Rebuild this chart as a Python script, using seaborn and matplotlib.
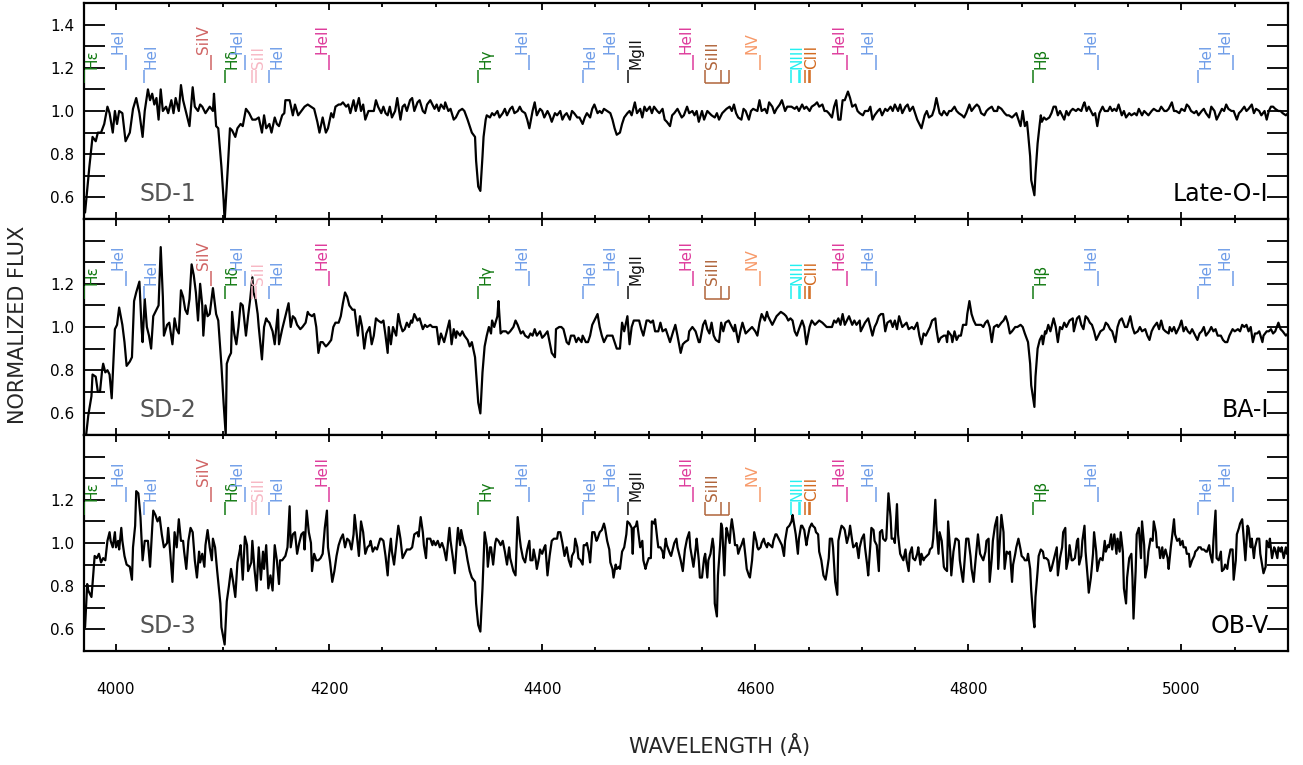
import matplotlib
matplotlib.use("Agg")
import matplotlib.pyplot as plt
import seaborn as sns
from matplotlib.ticker import MultipleLocator, FixedLocator

# ── spectra (wavelength in Å, normalized flux) ──────────────────────────
SD1_WAVE = [
    3971, 3975, 3978, 3981, 3983, 3986, 3989, 3992, 3994, 3997,
    3999, 4001, 4003, 4006, 4009, 4013, 4016, 4019, 4022, 4025,
    4027, 4030, 4032, 4034, 4036, 4038, 4040, 4042, 4044, 4047,
    4049, 4052, 4054, 4056, 4059, 4061, 4063, 4066, 4069, 4072,
    4074, 4077, 4079, 4081, 4084, 4088, 4091, 4092, 4094, 4096,
    4099, 4101, 4102, 4105, 4107, 4109, 4112, 4114, 4117, 4119,
    4122, 4125, 4128, 4131, 4134, 4137, 4139, 4141, 4144, 4146,
    4149, 4151, 4153, 4156, 4158, 4159, 4163, 4166, 4168, 4171,
    4174, 4177, 4180, 4183, 4186, 4189, 4191, 4194, 4197, 4199,
    4202, 4204, 4206, 4209, 4211, 4213, 4216, 4218, 4220, 4223,
    4225, 4228, 4230, 4232, 4234, 4237, 4240, 4242, 4244, 4246,
    4249, 4251, 4253,
    4255, 4257, 4259, 4262, 4264, 4267, 4269, 4271, 4273, 4276,
    4278, 4280, 4283, 4285, 4288, 4290, 4292, 4295, 4297, 4299,
    4301, 4303, 4305, 4308, 4309, 4312, 4314, 4317, 4319, 4322,
    4325, 4327, 4330, 4332, 4334, 4337, 4338, 4340, 4342, 4344,
    4345, 4347, 4348, 4351, 4353, 4355, 4358, 4360, 4363, 4365,
    4367, 4370, 4372, 4374, 4377, 4379, 4381, 4384, 4386, 4388,
    4391, 4393, 4395, 4398, 4400, 4402, 4405, 4407, 4409, 4412,
    4414, 4417, 4419, 4421, 4423, 4426, 4428, 4430, 4433, 4435,
    4438, 4440, 4442, 4445, 4447, 4449, 4452, 4454, 4456, 4458,
    4461, 4464, 4466, 4468, 4470, 4473, 4475, 4477, 4480, 4482,
    4484, 4487, 4489, 4492, 4494, 4496, 4498, 4501, 4503, 4505,
    4508, 4510, 4513, 4515, 4517, 4520, 4522, 4524, 4527, 4529,
    4531, 4533, 4536, 4538, 4541,
    4543, 4545, 4547, 4550, 4552, 4555, 4557, 4559, 4562, 4564,
    4566, 4569, 4571, 4573, 4576, 4578, 4580, 4582, 4584, 4587,
    4589, 4591, 4594, 4596, 4598, 4602, 4604, 4606, 4609, 4611,
    4613, 4616, 4618, 4620, 4623, 4625, 4628, 4630, 4632, 4634,
    4637, 4639, 4641, 4644, 4646, 4648, 4651, 4653, 4656, 4658,
    4660, 4663, 4665, 4667, 4669, 4672, 4674, 4676, 4678, 4680,
    4682, 4684, 4687, 4689, 4691, 4694, 4696, 4698, 4701, 4703,
    4706, 4708, 4710, 4712, 4715, 4717, 4719, 4722, 4724, 4727,
    4729, 4731, 4734, 4736, 4738, 4741, 4743, 4745, 4748, 4750,
    4752, 4755, 4756, 4759, 4761, 4763, 4766, 4768, 4770, 4773,
    4775, 4777, 4780, 4782, 4784, 4787, 4789, 4791, 4794, 4796,
    4798, 4801, 4803, 4806, 4808, 4810, 4812, 4815, 4817, 4819,
    4822, 4824, 4827,
    4828, 4831, 4834, 4836, 4838, 4841, 4843, 4845, 4847, 4849,
    4851, 4853, 4855, 4856, 4858, 4859, 4862, 4863, 4865, 4867,
    4868, 4869, 4871, 4873, 4876, 4878, 4880, 4882, 4884, 4886,
    4888, 4890, 4892, 4894, 4896, 4898, 4901, 4903, 4906, 4908,
    4909, 4911, 4913, 4915, 4917, 4919, 4921, 4923, 4926, 4928,
    4931, 4933, 4935, 4937, 4939, 4941, 4944, 4946, 4948, 4951,
    4953, 4956, 4958, 4960, 4963, 4965, 4967, 4969, 4972, 4974,
    4977, 4979, 4981, 4984, 4986, 4988, 4991, 4993, 4995, 4998,
    5000, 5003, 5005, 5007, 5009, 5012, 5014, 5016, 5019, 5021,
    5023, 5026, 5028, 5031, 5033, 5035, 5038, 5040, 5042, 5044,
    5047, 5049, 5052, 5054, 5056, 5059, 5061, 5063, 5066, 5068,
    5070, 5073, 5075, 5078, 5080, 5082, 5084, 5086, 5088, 5091,
    5093, 5095, 5098, 5100,
]
SD1_FLUX = [
    .53, .74, .88, .86, .90, .90, .94, 1.02, .99, .90,
    1.00, .94, 1.00, .99, .86, .90, 1.01, 1.06, .99, .88,
    1.00, 1.10, 1.05, 1.08, 1.03, 1.06, .96, 1.10, 1.00, 1.02,
    .99, 1.05, .99, 1.06, 1.00, 1.12, 1.05, .99, .93, 1.11,
    1.02, 1.00, 1.03, 1.02, .99, 1.02, 1.00, 1.08, .93, .92,
    .74, .59, .49, .74, .92, .91, .88, .92, .94, .93,
    1.01, .99, .96, .96, .97, .90, .98, .92, .94, .90,
    .97, .94, .93, .98, .99, 1.05, 1.05, .98, 1.03, .98,
    1.00, 1.02, 1.03, 1.02, 1.01, .95, .90, .97, .90, .92,
    .99, .97, 1.02, 1.03, 1.03, 1.04, 1.02, 1.03, .99, 1.05,
    1.00, 1.06, 1.00, 1.03, .96, 1.00, 1.00, 1.00, 1.05, 1.02,
    .99, 1.02, .99,
    .98, 1.02, .97, 1.00, 1.06, .96, 1.02, 1.03, 1.00, 1.05,
    1.06, 1.00, 1.04, 1.05, 1.00, .99, 1.03, 1.05, 1.03, 1.01,
    1.03, 1.00, 1.03, 1.01, 1.04, 1.00, 1.01, .96, .97, 1.00,
    1.01, 1.00, .96, .93, .90, .88, .77, .65, .63, .79,
    .88, .96, .98, .97, .99, .98, 1.00, .97, .99, 1.01,
    .98, 1.01, 1.02, .99, 1.00, 1.02, 1.00, .99, .96, .92,
    1.00, 1.04, .98, 1.01, 1.00, .97, 1.00, .98, .95, .99,
    .98, 1.00, .96, .98, .99, .96, 1.00, .99, .97, .97,
    .94, .97, .99, .97, 1.01, 1.03, .99, 1.00, .99, 1.01,
    1.00, .99, .96, .92, .89, .90, .94, .97, .99, 1.00,
    .98, 1.04, .99, 1.01, .97, 1.02, 1.00, 1.02, .99, 1.02,
    1.00, .99, 1.01, .96, .95, .93, .98, .99, 1.01, .99,
    .97, .98, 1.02, .99, 1.00,
    .98, 1.00, .95, 1.00, .96, 1.00, .99, .98, .97, .99,
    .96, .99, 1.00, 1.01, 1.02, 1.00, 1.03, .99, .97, .96,
    1.01, 1.00, .96, 1.00, 1.01, 1.00, 1.05, 1.00, 1.01, .99,
    1.04, 1.02, .99, 1.01, 1.03, 1.05, 1.00, 1.02, 1.02, 1.02,
    1.01, 1.02, 1.00, 1.03, 1.01, 1.02, 1.00, 1.02, 1.03, 1.04,
    1.02, 1.03, 1.00, 1.00, .99, .97, 1.02, 1.05, .96, .96,
    1.05, 1.05, 1.09, 1.06, 1.02, 1.03, 1.00, .99, .98, 1.00,
    1.00, 1.02, .96, .98, 1.00, 1.01, .98, 1.01, 1.00, 1.02,
    1.00, 1.03, 1.00, 1.03, .99, 1.02, 1.03, 1.00, 1.02, .99,
    .96, .93, .92, .98, 1.00, .97, .98, 1.01, 1.06, .99,
    .98, 1.00, .98, 1.00, 1.00, 1.02, 1.00, .99, .98, .97,
    .99, 1.03, 1.00, 1.02, 1.03, 1.02, .99, .98, 1.00, 1.01,
    1.02, 1.00, 1.00,
    1.02, 1.01, .99, .98, .98, .97, .98, .99, .96, .93,
    1.00, .93, .95, .90, .79, .68, .61, .71, .85, .94,
    .98, .95, .97, .96, .97, .99, 1.02, 1.02, .98, 1.00,
    .98, .96, 1.00, .98, 1.00, 1.01, 1.00, 1.01, 1.00, 1.03,
    1.04, 1.00, 1.02, 1.00, .98, .99, .93, .99, 1.02, 1.00,
    1.00, 1.02, 1.00, 1.01, 1.00, 1.03, .98, 1.00, .97, .99,
    .98, .99, .98, 1.01, .98, 1.00, .99, .98, 1.00, 1.01,
    1.00, 1.00, 1.02, 1.00, 1.00, 1.01, 1.04, 1.00, 1.00, .99,
    1.01, 1.00, 1.03, 1.02, 1.00, .99, 1.00, .98, 1.00, 1.01,
    .99, .97, 1.02, 1.00, .96, .98, 1.01, 1.00, 1.03, 1.01,
    1.00, 1.00, .96, .99, 1.00, 1.02, 1.00, 1.01, 1.03, .99,
    1.01, 1.00, .98, 1.00, .96, 1.00, 1.02, 1.02, 1.01, 1.00,
    1.00, .99, .98, .99,
]

SD2_WAVE = [
    3972, 3974, 3977, 3978, 3981, 3983, 3985, 3987, 3988, 3990,
    3992, 3994, 3996, 3999, 4001, 4003, 4006, 4008, 4010, 4013,
    4015, 4017, 4019, 4022, 4024, 4025, 4027, 4029, 4031, 4033,
    4035, 4038, 4040, 4042, 4044, 4045, 4048, 4050, 4053, 4055,
    4057, 4059, 4061, 4063, 4065, 4067, 4069, 4071, 4073, 4075,
    4077, 4079, 4081, 4082, 4084, 4086, 4088, 4091, 4092, 4094,
    4096, 4099, 4101, 4103, 4104, 4106, 4108, 4109, 4111, 4113,
    4115, 4117, 4119, 4122, 4124, 4126, 4128, 4129, 4131, 4133,
    4134, 4137, 4139, 4141, 4142, 4144, 4147, 4149, 4152, 4153,
    4156, 4158, 4159, 4162, 4164, 4166, 4168, 4170, 4173, 4175,
    4178, 4180, 4181, 4184, 4186, 4188, 4190, 4192, 4194, 4197,
    4199, 4202, 4204, 4206, 4209, 4211, 4213, 4215, 4217, 4219,
    4222, 4224, 4227, 4229, 4231, 4233, 4235, 4238, 4240, 4242,
    4244, 4246, 4249, 4251, 4253, 4255,
    4256, 4258, 4260, 4263, 4265, 4267, 4269, 4271, 4273, 4275,
    4277, 4278, 4280, 4283, 4285, 4288, 4290, 4292, 4295, 4297,
    4299, 4301, 4303, 4305, 4308, 4310, 4313, 4315, 4317, 4319,
    4320, 4323, 4325, 4327, 4330, 4332, 4334, 4337, 4338, 4340,
    4342, 4344, 4346, 4348, 4350, 4352, 4353, 4355, 4358, 4359,
    4361, 4363, 4366, 4368, 4370, 4373, 4375, 4377, 4380, 4382,
    4384, 4387, 4389, 4391, 4393, 4395, 4398, 4400, 4402, 4405,
    4407, 4409, 4412, 4413, 4416, 4418, 4420, 4423, 4425, 4427,
    4430, 4432, 4434, 4437, 4438, 4441, 4443, 4445, 4447, 4449,
    4452, 4454, 4456, 4458, 4461, 4464, 4466, 4468, 4470, 4473,
    4475, 4477, 4480, 4482, 4484, 4486, 4488, 4491, 4493, 4495,
    4498, 4500, 4502, 4504, 4506, 4509, 4511, 4513, 4516, 4518,
    4520, 4523, 4525, 4527, 4530, 4532, 4534, 4537, 4538, 4541,
    4544, 4547, 4548, 4551, 4553, 4555, 4557, 4559, 4561, 4563,
    4566, 4568, 4570, 4572, 4575, 4577, 4580, 4581, 4584, 4586,
    4588, 4591, 4593, 4595, 4597, 4600, 4602, 4604, 4606, 4609,
    4611, 4612, 4614, 4616, 4618, 4620, 4622, 4624, 4627, 4629,
    4631, 4633, 4635, 4637, 4639, 4641, 4644, 4646, 4648, 4651,
    4653, 4656, 4658, 4660, 4663, 4665, 4667, 4669, 4672, 4674,
    4676, 4678, 4680, 4682, 4684, 4686, 4688, 4691, 4693, 4695,
    4698, 4699, 4702, 4703, 4706, 4708, 4710, 4712, 4714, 4716,
    4718, 4720, 4722, 4724, 4727, 4729, 4731, 4733, 4735, 4738,
    4740, 4742, 4744, 4747, 4749, 4752, 4754, 4756, 4758, 4760,
    4762, 4764, 4766, 4769, 4770, 4772, 4774, 4777, 4779, 4780,
    4781, 4784, 4785, 4787, 4789, 4791, 4793, 4795, 4798, 4799,
    4801, 4803, 4805, 4807, 4809, 4812, 4814, 4816, 4818, 4820,
    4822, 4824, 4827,
    4828, 4831, 4833, 4835, 4837, 4839, 4841, 4844, 4846, 4849,
    4851, 4853, 4856, 4858, 4859, 4862, 4863, 4865, 4867, 4869,
    4870, 4872, 4873, 4875, 4877, 4878, 4880, 4882, 4884, 4886,
    4888, 4890, 4892, 4894, 4895, 4898, 4899, 4902, 4904, 4906,
    4908, 4910, 4912, 4914, 4916, 4918, 4920, 4922, 4924, 4927,
    4929, 4931, 4933, 4935, 4938, 4940, 4942, 4944, 4947, 4949,
    4952, 4954, 4956, 4959, 4961, 4963, 4966, 4968, 4970, 4972,
    4974, 4977, 4979, 4981, 4983, 4985, 4988, 4989, 4991, 4993,
    4995, 4998, 5000, 5002, 5004, 5006, 5008, 5010, 5013, 5015,
    5017, 5019, 5021, 5023, 5026, 5028, 5030, 5032, 5034, 5037,
    5039, 5041, 5043, 5045, 5048, 5050, 5053, 5055, 5057, 5059,
    5061, 5063, 5065, 5067, 5069, 5071, 5073, 5076, 5077, 5080,
    5082, 5084, 5086, 5088, 5091, 5093, 5095, 5098, 5100,
]
SD2_FLUX = [
    .50, .59, .68, .78, .77, .70, .70, .80, .83, .79,
    .80, .78, .67, .99, 1.01, 1.09, 1.01, .93, .82, .84,
    .86, 1.12, 1.16, 1.21, 1.00, .93, 1.13, 1.00, .96, .90,
    1.05, 1.08, 1.10, 1.37, 1.14, .96, 1.01, 1.02, .92, 1.04,
    .99, .97, 1.17, 1.14, 1.08, 1.06, 1.13, 1.29, 1.24, 1.16,
    1.03, 1.20, 1.10, .96, 1.10, 1.05, 1.06, 1.18, 1.14, 1.06,
    1.03, .82, .65, .50, .83, .86, .88, 1.07, .97, .92,
    1.00, 1.11, 1.10, .96, 1.05, 1.13, 1.23, 1.16, 1.13, 1.06,
    1.00, .85, 1.00, 1.04, 1.03, 1.02, .98, .92, 1.08, .92,
    .99, 1.03, 1.05, 1.11, 1.00, 1.05, 1.04, 1.01, .99, 1.00,
    1.02, 1.07, 1.06, 1.05, 1.06, 1.00, .88, .93, .93, .91,
    .92, .94, 1.00, 1.02, 1.02, 1.05, 1.11, 1.16, 1.14, 1.10,
    1.08, 1.08, .96, 1.05, 1.00, .90, .97, 1.00, .92, .96,
    1.04, 1.03, 1.02, 1.03, .96, .88,
    1.00, .92, 1.00, .96, 1.06, 1.01, .98, .99, 1.02, 1.00,
    1.03, 1.02, 1.06, 1.03, 1.04, .99, 1.01, 1.00, 1.01, 1.00,
    1.00, 1.00, .92, .97, .93, .97, 1.03, .92, .99, .95,
    .98, .96, .98, .96, .94, .91, .93, .86, .79, .65,
    .60, .79, .91, .96, 1.00, .97, 1.03, 1.00, 1.05, 1.12,
    .97, .98, .98, .97, .98, 1.00, 1.03, 1.01, .97, .98,
    .96, .95, .97, .96, .99, .96, .98, .95, .96, .98,
    .93, .88, .86, .99, 1.00, 1.00, .99, .93, .92, .96,
    .96, .93, .95, .93, .96, .93, .93, .96, 1.01, 1.03,
    1.06, 1.00, .96, .93, .96, .96, .96, .93, .90, .90,
    1.02, .98, 1.05, .92, 1.00, 1.03, 1.03, 1.03, .99, .96,
    1.03, 1.03, 1.02, 1.03, .98, .98, 1.02, .98, .99, .96,
    .93, .98, 1.01, .96, .88, .92, .93, .94, .98, 1.00,
    .98, .93, .93, 1.01, 1.03, .99, .97, 1.02, .96, .94,
    .93, 1.02, .98, 1.02, 1.03, 1.01, .98, 1.01, .93, .98,
    1.02, .97, .98, .99, 1.00, .98, .96, 1.02, 1.06, 1.03,
    1.07, 1.05, 1.03, 1.01, 1.03, 1.05, 1.06, 1.07, 1.06, 1.05,
    1.03, 1.04, 1.03, .98, .96, .99, 1.03, 1.00, .92, 1.00,
    1.03, 1.01, 1.02, 1.03, 1.02, 1.01, 1.00, 1.00, 1.00, 1.03,
    1.02, 1.04, 1.01, 1.06, 1.01, 1.03, 1.05, 1.01, 1.03, 1.01,
    1.03, .98, 1.01, 1.02, 1.04, 1.00, .96, 1.00, 1.02, 1.05,
    1.06, 1.06, .98, 1.02, 1.03, 1.00, 1.03, .99, 1.05, 1.00,
    1.01, 1.02, .99, 1.00, .99, 1.02, .96, .92, .97, .96,
    .98, 1.00, 1.03, 1.04, .99, .93, .95, .96, .96, .93,
    .98, .96, .93, .98, .94, .96, .96, 1.01, 1.01, 1.06,
    1.12, 1.06, 1.03, 1.01, 1.01, 1.01, 1.00, 1.02, 1.03, 1.00,
    .93, 1.00, 1.01,
    1.00, 1.02, 1.03, 1.05, 1.02, .97, .98, 1.00, 1.00, 1.01,
    1.00, .97, .93, .83, .73, .63, .77, .90, .94, .96,
    .92, .98, .97, 1.01, .98, 1.00, 1.04, 1.00, .93, 1.00,
    .99, 1.02, 1.00, 1.02, 1.03, 1.04, .98, 1.04, 1.05, 1.01,
    .99, 1.05, 1.04, 1.02, 1.01, .98, .94, .96, .98, .99,
    1.02, 1.01, .99, .98, .93, 1.00, 1.03, 1.04, 1.00, 1.00,
    1.05, 1.00, .97, .98, 1.00, .98, .99, .96, .94, .98,
    1.00, 1.02, .99, 1.03, .99, .98, .97, 1.00, .98, 1.00,
    .97, 1.00, 1.03, .98, 1.00, .98, .97, .99, .96, .94,
    .97, .98, 1.00, .96, .98, 1.00, .98, .99, .96, .96,
    .94, .93, .93, .96, .99, .98, .99, .98, 1.01, 1.00,
    1.01, .98, 1.00, .93, .97, .97, .98, .93, .96, .98,
    .98, .99, .97, .98, 1.02, .99, .98, .96, .97,
]

SD3_WAVE = [
    3971, 3973, 3974, 3977, 3978, 3980, 3982, 3984, 3986, 3988,
    3990, 3992, 3994, 3995, 3997, 3999, 4000, 4002, 4003, 4005,
    4006, 4008, 4010, 4013, 4015, 4016, 4018, 4019, 4021, 4023,
    4025, 4027, 4030, 4032, 4034, 4035, 4037, 4039, 4041, 4043,
    4045, 4048, 4049, 4051, 4053, 4055, 4057, 4059, 4061, 4063,
    4064, 4066, 4068, 4070, 4072, 4074, 4076, 4078, 4079, 4081,
    4083, 4084, 4086, 4088, 4090, 4091, 4093, 4095, 4098, 4099,
    4102, 4104, 4106, 4108, 4110, 4112, 4114, 4116, 4117, 4119,
    4121, 4123, 4124, 4127, 4128, 4130, 4132, 4134, 4136, 4138,
    4139, 4141, 4143, 4145, 4147, 4149, 4151, 4153, 4154, 4156,
    4159, 4161, 4163, 4164, 4166, 4168, 4170, 4172, 4174, 4176,
    4177, 4179, 4181, 4183, 4184, 4186, 4188, 4190, 4192, 4194,
    4196, 4198, 4199, 4201, 4203, 4205, 4207, 4209, 4211, 4213,
    4215, 4217, 4219, 4221, 4223, 4224, 4226, 4228, 4230, 4232,
    4234, 4236, 4238, 4239, 4241, 4243, 4245, 4248, 4249, 4251,
    4253, 4255,
    4256, 4258, 4259, 4261, 4263, 4265, 4267, 4269, 4271, 4273,
    4276, 4278, 4280, 4283, 4284, 4286, 4288, 4289, 4291, 4292,
    4295, 4297, 4298, 4300, 4302, 4304, 4306, 4308, 4310, 4313,
    4314, 4316, 4318, 4320, 4321, 4323, 4324, 4326, 4328, 4330,
    4332, 4334, 4337, 4338, 4340, 4342, 4344, 4346, 4348, 4349,
    4351, 4352, 4354, 4356, 4357, 4359, 4361, 4363, 4365, 4367,
    4369, 4370, 4373, 4375, 4377, 4379, 4380, 4382, 4384, 4386,
    4388, 4389, 4391, 4392, 4394, 4395, 4397, 4398, 4400, 4402,
    4403, 4405, 4407, 4409, 4411, 4414, 4415, 4417, 4419, 4421,
    4423, 4425, 4427, 4428, 4430, 4431, 4433, 4434, 4436, 4438,
    4439, 4441, 4442, 4444, 4445, 4447, 4449, 4451, 4452, 4454,
    4456, 4458, 4459, 4461, 4463, 4464, 4466, 4467, 4469, 4470,
    4472, 4473, 4475, 4477, 4479, 4480, 4482, 4484, 4485, 4486,
    4488, 4489, 4491, 4492, 4494, 4495, 4497, 4498, 4500, 4502,
    4503, 4505, 4506, 4508, 4509, 4511, 4513, 4514, 4516, 4517,
    4520, 4521, 4523, 4524, 4526, 4527, 4529, 4530, 4532, 4534,
    4536, 4538, 4539, 4541,
    4542, 4544, 4545, 4547, 4548, 4550, 4552, 4553, 4555, 4556,
    4558, 4560, 4561, 4562, 4564, 4565, 4567, 4568, 4569, 4571,
    4572, 4573, 4574, 4576, 4577, 4578, 4580, 4581, 4583, 4584,
    4586, 4587, 4589, 4591, 4592, 4594, 4595, 4597, 4599, 4601,
    4602, 4603, 4605, 4606, 4608, 4609, 4611, 4612, 4614, 4616,
    4617, 4619, 4620, 4622, 4623, 4625, 4627, 4628, 4630, 4632,
    4634, 4635, 4637, 4638, 4640, 4641, 4643, 4644, 4646, 4648,
    4649, 4651, 4653, 4654, 4656, 4657, 4659, 4660, 4662, 4664,
    4666, 4667, 4669, 4670, 4672, 4673, 4675, 4677, 4678, 4680,
    4681, 4683, 4684, 4686, 4688, 4689, 4691, 4692, 4694, 4695,
    4697, 4698, 4700, 4702, 4703, 4705, 4706, 4708, 4709, 4711,
    4712, 4714, 4716, 4717, 4719, 4720, 4722, 4723, 4725, 4727,
    4728, 4730, 4731, 4733, 4734, 4736, 4738, 4739, 4741, 4742,
    4744, 4745, 4747, 4748, 4750, 4752, 4753, 4755, 4756, 4758,
    4759, 4761, 4763, 4764, 4766, 4767, 4769, 4770, 4772, 4773,
    4775, 4777, 4778, 4780, 4781, 4783, 4784, 4786, 4788, 4789,
    4791, 4792, 4794, 4795, 4797, 4798, 4800, 4802, 4803, 4805,
    4806, 4808, 4809, 4811, 4812, 4814, 4816, 4817, 4819, 4820,
    4822, 4823, 4825, 4827,
    4828, 4830, 4831, 4833, 4834, 4836, 4838, 4839, 4841, 4842,
    4844, 4845, 4847, 4849, 4850, 4852, 4853, 4855, 4856, 4858,
    4859, 4861, 4862, 4863, 4865, 4866, 4868, 4870, 4871, 4873,
    4875, 4877, 4878, 4880, 4881, 4883, 4884, 4886, 4888, 4889,
    4891, 4892, 4894, 4895, 4897, 4898, 4900, 4902, 4903, 4904,
    4906, 4907, 4909, 4910, 4912, 4913, 4915, 4917, 4918, 4920,
    4921, 4923, 4924, 4926, 4928, 4929, 4931, 4932, 4934, 4935,
    4937, 4939, 4940, 4942, 4943, 4945, 4946, 4948, 4949, 4951,
    4953, 4954, 4955, 4957, 4958, 4960, 4962, 4963, 4965, 4966,
    4968, 4969, 4971, 4973, 4974, 4976, 4977, 4979, 4980, 4982,
    4983, 4985, 4987, 4988, 4990, 4991, 4993, 4994, 4996, 4998,
    4999, 5001, 5002, 5004, 5005, 5007, 5008, 5010, 5012, 5013,
    5015, 5016, 5018, 5019, 5021, 5023, 5024, 5026, 5027, 5029,
    5030, 5032, 5033, 5035, 5037, 5038, 5040, 5041, 5043, 5044,
    5046, 5048, 5049, 5051, 5052, 5054, 5055, 5057, 5058, 5060,
    5062, 5063, 5065, 5066, 5068, 5069, 5071, 5073, 5074, 5076,
    5077, 5079, 5080, 5082, 5083, 5085, 5087, 5088, 5090, 5091,
    5093, 5094, 5096, 5098, 5099,
]
SD3_FLUX = [
    .61, .81, .78, .75, .81, .94, .93, .95, .91, .93,
    .92, 1.01, 1.05, 1.01, .98, 1.05, .98, 1.01, .97, 1.07,
    1.01, .94, .90, .89, .83, .98, 1.08, 1.24, 1.23, 1.12,
    .92, 1.01, 1.01, .89, 1.07, 1.15, 1.13, 1.10, 1.12, 1.04,
    .98, 1.00, 1.07, .95, .82, 1.05, .98, 1.11, 1.01, 1.01,
    .96, .88, 1.01, 1.07, 1.05, .92, .84, .96, .91, .95,
    .89, .99, 1.06, .98, .92, 1.02, .98, .87, .72, .61,
    .53, .73, .80, .88, .82, .75, .91, .96, .99, .83,
    1.03, .99, .87, .91, 1.01, .88, .78, .98, .83, .96,
    .88, .99, .79, .85, .78, .99, .92, .81, .92, .92,
    .94, .98, 1.17, .98, 1.04, 1.05, .95, 1.00, 1.04, 1.05,
    .97, 1.15, 1.05, 1.00, .87, .95, .92, .92, .93, .95,
    1.07, 1.15, .98, .91, .82, .87, .94, .99, 1.02, 1.04,
    .98, 1.02, 1.01, .97, 1.04, 1.13, 1.04, .94, 1.10, 1.05,
    .95, .98, .99, 1.01, .96, .98, .97, 1.02, 1.02, 1.01,
    .94, .85,
    .93, 1.02, .96, .90, .99, 1.08, 1.02, .93, .95, .97,
    .97, .98, 1.04, 1.05, 1.03, 1.12, 1.05, .99, .93, 1.02,
    1.02, .99, 1.01, .99, 1.01, .98, 1.00, .97, .92, 1.07,
    1.01, .94, .86, 1.01, 1.07, .99, 1.06, 1.01, .98, .92,
    .87, .84, .82, .72, .62, .59, .79, 1.05, .99, .89,
    .98, .98, .90, 1.00, 1.02, 1.01, .99, 1.01, .96, .90,
    .98, .93, .87, .85, 1.12, 1.02, .98, .93, .91, .97,
    1.01, .92, .92, .97, .92, .88, .93, .97, .95, .98,
    .99, .85, .94, 1.01, 1.02, 1.02, 1.05, 1.05, 1.00, .94,
    .98, .92, .89, .94, .96, 1.02, .98, .93, .92, .90,
    .99, .99, 1.00, .95, .91, 1.05, 1.05, 1.01, 1.02, 1.05,
    1.06, 1.09, 1.07, 1.01, .97, .91, .88, .84, .90, .88,
    .89, .88, .96, .98, 1.04, 1.10, 1.09, 1.07, .95, 1.07,
    1.08, 1.10, 1.02, .98, 1.01, .92, .88, .90, .93, .93,
    1.10, 1.09, 1.11, 1.02, .98, .98, .96, .93, 1.02, .99,
    .95, .94, .98, 1.00, 1.02, .98, .94, .92, .87, .97,
    1.02, 1.05, .98, .92,
    .89, .97, 1.02, .92, .84, .84, .93, .95, .84, .92,
    .95, 1.02, .98, .72, .66, .85, .99, 1.09, 1.07, .85,
    .99, 1.07, 1.05, 1.00, 1.07, 1.11, 1.04, .99, .99, .95,
    .98, .99, 1.02, .93, .88, .85, .84, .92, 1.05, 1.01,
    .98, .97, .98, 1.00, 1.02, 1.00, .98, 1.00, .99, .98,
    1.01, 1.04, 1.04, 1.02, 1.01, .99, .94, 1.01, 1.07, 1.08,
    1.10, 1.13, 1.07, 1.04, .95, 1.02, 1.08, 1.08, 1.06, .99,
    1.02, 1.07, 1.09, 1.08, 1.07, 1.05, 1.04, .96, .92, .85,
    .83, .86, .93, 1.02, 1.02, .98, .82, .76, 1.01, 1.06,
    1.08, 1.07, 1.06, 1.00, 1.04, 1.08, 1.01, .98, .99, 1.00,
    .93, .98, 1.02, 1.04, .98, .90, .85, .99, 1.07, 1.06,
    1.01, .99, .87, 1.05, 1.06, 1.02, 1.01, 1.02, 1.23, 1.12,
    1.02, 1.02, 1.00, 1.18, 1.04, .95, .93, .92, .97, .92,
    .87, .95, .98, .93, .92, .95, .98, .90, .95, .92,
    .93, .94, .95, .97, .98, 1.02, 1.20, 1.08, .95, 1.05,
    1.01, .89, .88, .87, 1.10, .96, .85, .96, 1.02, 1.02,
    1.01, .92, .85, .82, .95, 1.02, 1.02, .94, .88, .82,
    .88, .99, 1.04, .95, .94, .92, .96, 1.01, 1.02, .82,
    .93, 1.01, 1.08, 1.12,
    .88, 1.05, 1.13, 1.05, .88, .96, .95, .96, .82, .90,
    .95, .98, 1.02, .97, .94, .93, .92, .92, .95, .88,
    .78, .65, .61, .75, .87, .94, .97, .96, .93, .93,
    .92, .87, .88, .92, .94, .98, .85, .93, .98, 1.05,
    1.07, .88, .93, .99, .92, .92, .93, 1.01, 1.02, .90,
    .94, 1.01, 1.08, .96, .84, .77, .84, .95, 1.05, .96,
    .87, .92, .93, .92, 1.01, .96, .99, .98, 1.04, .97,
    1.04, .95, 1.02, .96, 1.05, .96, .79, .72, .84, .93,
    .95, .84, .65, .87, 1.04, 1.07, .93, 1.10, .99, .84,
    .90, .96, 1.02, 1.01, 1.10, 1.05, .98, .98, .93, .98,
    .93, .97, .93, .88, .98, 1.02, 1.11, 1.04, 1.01, 1.02,
    .99, 1.01, .98, .98, .95, .95, .89, .92, .94, .96,
    .97, .98, .98, .97, .97, .96, .96, .99, .95, .91,
    1.01, 1.15, .93, .92, .96, .87, .88, .90, .88, .92,
    .97, .97, .83, .92, 1.04, 1.07, 1.09, 1.11, 1.05, .92,
    1.08, 1.07, .98, 1.02, .93, .98, 1.02, 1.02, .95, .89,
    .86, .89, 1.01, .98, 1.02, .93, .98, .97, .93, .98,
    .96, .98, .93, .98, .95,
]

PANEL_NAMES = ["SD-1", "SD-2", "SD-3"]
PANEL_TYPES = ["Late-O-I", "BA-I", "OB-V"]

# ── line identifications ────────────────────────────────────────────────
LINE_LABELS = ["Hε", "HeI", "HeI", "SiIV", "Hδ", "HeI", "SiII", "HeI", "HeII",
               "Hγ", "HeI", "HeI", "HeI", "MgII", "HeII", "SiIII", "NV",
               "NIII", "CIII", "HeII", "HeI", "Hβ", "HeI", "HeI", "HeI"]
LINE_WAVES = [[3970], [4009], [4026], [4089], [4102], [4121], [4128, 4131],
              [4144], [4200], [4340], [4388], [4438], [4471], [4481], [4542],
              [4553, 4568, 4575], [4604], [4634, 4641, 4642],
              [4647, 4650, 4651], [4686], [4713], [4861], [4922], [5016],
              [5048]]
LINE_LEVELS = ["low", "high", "low", "high", "low", "high", "low", "low",
               "high", "low", "high", "low", "high", "low", "high", "low",
               "high", "low", "low", "high", "high", "low", "high", "low",
               "high"]
LINE_COLORS = ["#137a13", "#6f9de8", "#6f9de8", "#d06464", "#137a13",
               "#6f9de8", "#f7b8c4", "#6f9de8", "#de3c9c", "#137a13",
               "#6f9de8", "#6f9de8", "#6f9de8", "#111111", "#de3c9c",
               "#b0643a", "#f79a6a", "#22f0f0", "#d2691e", "#de3c9c",
               "#6f9de8", "#137a13", "#6f9de8", "#6f9de8", "#6f9de8"]
TICK_SPAN = {"high": (1.19, 1.26), "low": (1.13, 1.19)}


def _mark_lines(ax):
    for name, waves, level, color in zip(
            LINE_LABELS, LINE_WAVES, LINE_LEVELS, LINE_COLORS):
        lo, hi = TICK_SPAN[level]
        ax.vlines(waves, lo, hi, color=color, lw=1.1, zorder=3)
        if name == "SiIII":
            ax.hlines(lo, waves[0], waves[-1], color=color, lw=1.1, zorder=3)
        # high labels sit left of their tick, low labels to the right
        ha = "right" if level == "high" else "left"
        x = waves[0] - (1.5 if len(waves) > 1 and name != "SiIII" else 0)
        ax.text(x, hi + 0.004, name, rotation=90, ha=ha, va="bottom",
                color=color, fontsize=11, zorder=3)


def _draw_panel(ax, wave, flux, name, sptype, show_top_label, show_x):
    assert len(wave) == len(flux), (name, len(wave), len(flux))
    sns.lineplot(x=wave, y=flux, ax=ax, color="black", lw=1.6,
                 estimator=None, sort=False, legend=False)
    ax.set_xlim(3970, 5100)
    ax.set_ylim(0.5, 1.5)

    ax.xaxis.set_major_locator(MultipleLocator(200))
    ax.xaxis.set_minor_locator(MultipleLocator(50))
    yt = [0.6, 0.8, 1.0, 1.2, 1.4]
    ax.yaxis.set_major_locator(FixedLocator(yt))
    ax.yaxis.set_minor_locator(FixedLocator([0.7, 0.9, 1.1, 1.3]))
    ax.set_yticklabels([f"{v:.1f}" if (v < 1.3 or show_top_label) else ""
                        for v in yt])

    ax.tick_params(axis="both", which="both", direction="in",
                   top=True, right=True, width=1.3, labelsize=11,
                   colors="black")
    ax.tick_params(axis="y", which="both", length=15, pad=7)
    ax.tick_params(axis="x", which="major", length=5, pad=22)
    ax.tick_params(axis="x", which="minor", length=3)
    if not show_x:
        ax.tick_params(axis="x", labelbottom=False)

    for sp in ax.spines.values():
        sp.set_linewidth(1.6)
        sp.set_color("black")

    ax.set_xlabel("")
    ax.set_ylabel("")
    ax.text(0.046, 0.115, name, transform=ax.transAxes, fontsize=17,
            color="#555555", ha="left", va="center")
    ax.text(0.984, 0.115, sptype, transform=ax.transAxes, fontsize=17,
            color="black", ha="right", va="center")
    _mark_lines(ax)


def main():
    sns.set_style("ticks")
    plt.rcParams["font.family"] = ["DejaVu Sans"]

    fig = plt.figure(figsize=(13.03, 7.65), dpi=100)
    left, width, height = 84 / 1303, 1204 / 1303, 216 / 765
    bottoms = [546 / 765, 330 / 765, 114 / 765]
    spectra = [(SD1_WAVE, SD1_FLUX), (SD2_WAVE, SD2_FLUX), (SD3_WAVE, SD3_FLUX)]

    for i, ((w, f), name, sptype) in enumerate(zip(spectra, PANEL_NAMES, PANEL_TYPES)):
        ax = fig.add_axes([left, bottoms[i], width, height])
        _draw_panel(ax, w, f, name, sptype, show_top_label=(i == 0),
                    show_x=(i == 2))

    fig.text(0.014, 0.575, "NORMALIZED FLUX", rotation=90, ha="center",
             va="center", fontsize=15)
    fig.text(0.5526, 0.026, "WAVELENGTH (Å)", ha="center", va="center",
             fontsize=15)

    fig.savefig("out.png", dpi=100, facecolor="white")
    plt.close(fig)


if __name__ == "__main__":
    main()
